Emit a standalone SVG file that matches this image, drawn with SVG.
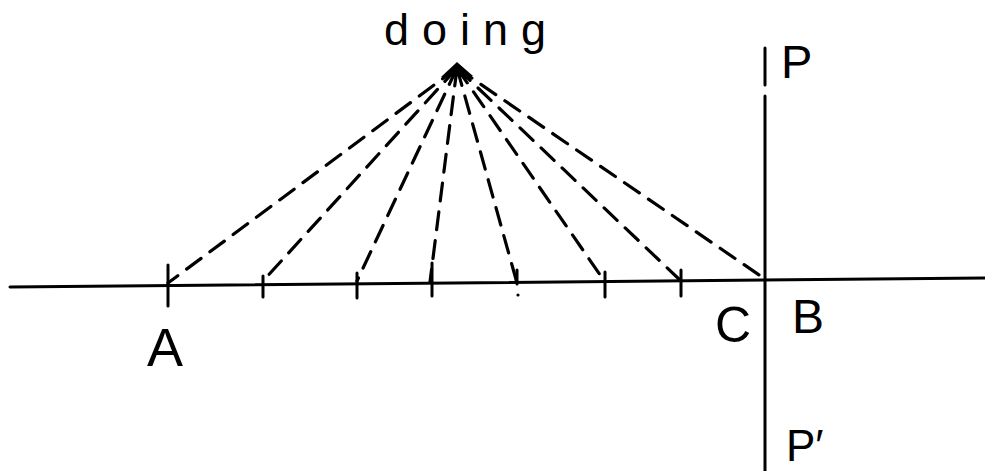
<svg xmlns="http://www.w3.org/2000/svg" width="985" height="471" viewBox="0 0 985 471">
<style>
.ln{stroke:#000;stroke-width:3;fill:none;stroke-linecap:round}
.tk{stroke:#000;stroke-width:3;fill:none;stroke-linecap:round}
.ds{stroke:#000;stroke-width:3.2;fill:none;stroke-dasharray:18 11;stroke-linecap:round}
.lb{font-family:"Liberation Sans",Arial,sans-serif;fill:#000}
</style>
<rect width="985" height="471" fill="#fff"/>
<g id="connectors">
<path class="ds" d="M457,68 L168,283"/>
<path class="ds" d="M457,68 L263,281"/>
<path class="ds" d="M457,68 L357,281"/>
<path class="ds" d="M457,68 L430,282"/>
<path class="ds" d="M457,68 L517,283"/>
<path class="ds" d="M457,68 L605,282"/>
<path class="ds" d="M457,68 L681,281"/>
<path class="ds" d="M457,68 L765,279"/>
</g>
<g id="apex">
<path d="M457,62 L441,77 L473,76 Z" fill="#000"/>
</g>
<g id="line-AB">
<path class="ln" d="M10,287 L985,278"/>
</g>
<g id="line-PP">
<path class="ln" d="M765,48 L765,85"/>
<path class="ln" d="M765,96 L765,471"/>
</g>
<g id="ticks">
<path class="tk" d="M168,265 L168,306"/>
<path class="tk" d="M263,276 L263,297"/>
<path class="tk" d="M357,273 L357,298"/>
<path class="tk" d="M432,263 L432,296"/>
<path class="tk" d="M517,270 L517,284"/>
<circle cx="518" cy="295" r="1.6" fill="#000"/>
<path class="tk" d="M605,272 L605,297"/>
<path class="tk" d="M681,270 L681,296"/>
</g>
<g id="labels">
<text class="lb" x="384" y="45" font-size="45" textLength="162" lengthAdjust="spacing">doing</text>
<text class="lb" x="165" y="366" font-size="54" text-anchor="middle">A</text>
<text class="lb" x="733" y="342" font-size="50" text-anchor="middle">C</text>
<text class="lb" x="808" y="333" font-size="48" text-anchor="middle">B</text>
<text class="lb" x="781" y="78" font-size="47">P</text>
<text class="lb" x="786" y="461" font-size="44">P′</text>
</g>
</svg>
